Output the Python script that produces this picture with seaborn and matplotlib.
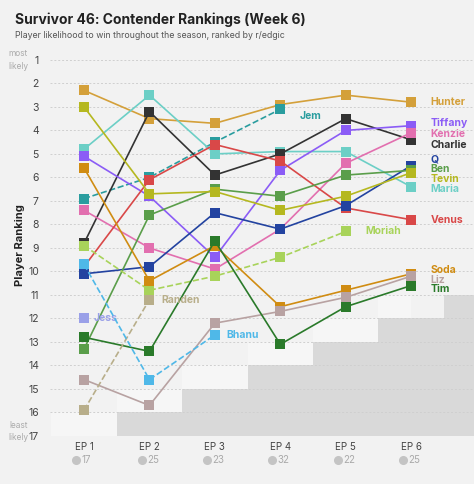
import numpy as np
import pandas as pd
import seaborn as sns
import matplotlib.pyplot as plt

episodes = [1, 2, 3, 4, 5, 6]
ep_labels = ["EP 1", "EP 2", "EP 3", "EP 4", "EP 5", "EP 6"]
voters = [17, 25, 23, 32, 22, 25]

# rankings per player (None = out / not ranked)
hunter = [2.3, 3.5, 3.7, 2.9, 2.5, 2.8]
jem = [6.9, 6.0, 4.5, 3.1, None, None]
maria = [4.8, 2.5, 5.0, 4.9, 4.9, 6.4]
charlie = [8.8, 3.2, 5.9, 5.0, 3.5, 4.4]
tiffany = [5.1, 6.8, 9.4, 5.7, 4.0, 3.8]
kenzie = [7.4, 9.0, 9.9, 8.2, 5.4, 4.1]
venus = [9.8, 6.1, 4.6, 5.3, 7.3, 7.8]
q = [10.1, 9.8, 7.5, 8.2, 7.2, 5.5]
ben = [13.3, 7.6, 6.5, 6.8, 5.9, 5.7]
tevin = [3.0, 6.7, 6.6, 7.4, 6.8, 5.8]
moriah = [8.9, 10.8, 10.2, 9.4, 8.3, None]
soda = [5.6, 10.4, 8.9, 11.5, 10.8, 10.1]
liz = [14.6, 15.7, 12.2, 11.7, 11.1, 10.2]
tim = [12.8, 13.4, 8.7, 13.1, 11.5, 10.6]
randen = [15.9, 11.2, None, None, None, None]
jess = [12.0, None, None, None, None, None]
bhanu = [9.7, 14.6, 12.7, None, None, None]

players = {
    "Hunter": (hunter, "#D4A03A", False),
    "Jem": (jem, "#2A9D9F", True),
    "Maria": (maria, "#6CCFC6", False),
    "Charlie": (charlie, "#333333", False),
    "Tiffany": (tiffany, "#8B5CF6", False),
    "Kenzie": (kenzie, "#E26FAF", False),
    "Venus": (venus, "#D94848", False),
    "Q": (q, "#2343A0", False),
    "Ben": (ben, "#5A9E4A", False),
    "Tevin": (tevin, "#B5B820", False),
    "Moriah": (moriah, "#A8D35A", True),
    "Soda": (soda, "#D08C12", False),
    "Liz": (liz, "#B8A2A2", False),
    "Tim": (tim, "#2A7A2A", False),
    "Randen": (randen, "#B8AE8A", True),
    "Jess": (jess, "#9AA0E8", False),
    "Bhanu": (bhanu, "#4FB8E8", True),
}

# label positions next to the points
label_pos = {
    "Hunter": (6.3, 2.8), "Tiffany": (6.3, 3.7), "Kenzie": (6.3, 4.15),
    "Charlie": (6.3, 4.6), "Q": (6.3, 5.25), "Ben": (6.3, 5.65),
    "Tevin": (6.3, 6.05), "Maria": (6.3, 6.5), "Venus": (6.3, 7.8),
    "Soda": (6.3, 9.95), "Liz": (6.3, 10.35), "Tim": (6.3, 10.75),
    "Jem": (4.3, 3.4), "Moriah": (5.3, 8.3), "Randen": (2.18, 11.2),
    "Jess": (1.15, 12.0), "Bhanu": (3.18, 12.7),
}

bg = "#F2F2F2"
sns.set_style("white")
plt.rcParams["font.family"] = ["Inter", "DejaVu Sans"]

fig = plt.figure(figsize=(4.74, 4.84), dpi=100, facecolor=bg)
ax = fig.add_axes([50 / 474, 1 - 436 / 484, 1 - 50 / 474, (436 - 54) / 484])
ax.set_facecolor(bg)
ax.set_xlim(0.48, 6.96)
ax.set_ylim(17, 0.75)

# staircase of eliminated slots
steps_x = [1.5, 2.5, 3.5, 4.5, 5.5, 6.5, 7.0]
steps_y = [16, 15, 14, 13, 12, 11, 11]
for i in range(len(steps_x) - 1):
    ax.fill_between([steps_x[i], steps_x[i + 1]], steps_y[i], 17, color="#D9D9D9", lw=0, zorder=0)
    ax.fill_between([steps_x[i] - 1, steps_x[i + 1] - 1], steps_y[i], 17, color="#F6F6F6", lw=0, zorder=-1)

for r in range(1, 18):
    ax.axhline(r, color="#CFCFCF", lw=0.7, ls=(0, (2, 2)), zorder=0.5)

for name, (vals, color, dashed) in players.items():
    df = pd.DataFrame({"ep": episodes, "rank": vals}).dropna()
    sns.lineplot(data=df, x="ep", y="rank", ax=ax, color=color, lw=1.2,
                 ls="--" if dashed else "-", marker="s", markersize=6.5,
                 markeredgewidth=0, zorder=3)
    lx, ly = label_pos[name]
    ax.text(lx, ly, name, color=color, fontsize=7.5, fontweight="bold", va="center", ha="left")

ax.set_yticks(range(1, 18))
ax.set_yticklabels([str(i) for i in range(1, 18)], fontsize=7.5, color="#444444")
ax.set_xticks(episodes)
ax.set_xticklabels(ep_labels, fontsize=7, color="#444444")
ax.tick_params(axis="y", length=0, pad=8)
ax.tick_params(axis="x", length=0, pad=4)
ax.set_xlabel("")
ax.set_ylabel("Player Ranking", fontsize=8, fontweight="bold", color="#222222", labelpad=2)
for s in ax.spines.values():
    s.set_visible(False)

for e, v in zip(episodes, voters):
    ax.plot(e - 0.12, 18.0, "o", color="#C4C4C4", ms=5.5, clip_on=False)
    ax.text(e - 0.04, 18.0, str(v), color="#AAAAAA", fontsize=7, va="center", ha="left", clip_on=False)

ax.text(-0.052, 1.0, "most\nlikely", transform=ax.get_yaxis_transform(), fontsize=6, color="#AAAAAA",
        ha="right", va="center", linespacing=1.5, clip_on=False)
ax.text(-0.052, 16.8, "least\nlikely", transform=ax.get_yaxis_transform(), fontsize=6, color="#AAAAAA",
        ha="right", va="center", linespacing=1.5, clip_on=False)

fig.text(15 / 474, 1 - 20 / 484, "Survivor 46: Contender Rankings (Week 6)", fontsize=10,
         fontweight="bold", color="#222222", va="center")
fig.text(15 / 474, 1 - 36 / 484, "Player likelihood to win throughout the season, ranked by r/edgic",
         fontsize=6.3, color="#555555", va="center")

fig.savefig("out.png", dpi=100, facecolor=bg)
